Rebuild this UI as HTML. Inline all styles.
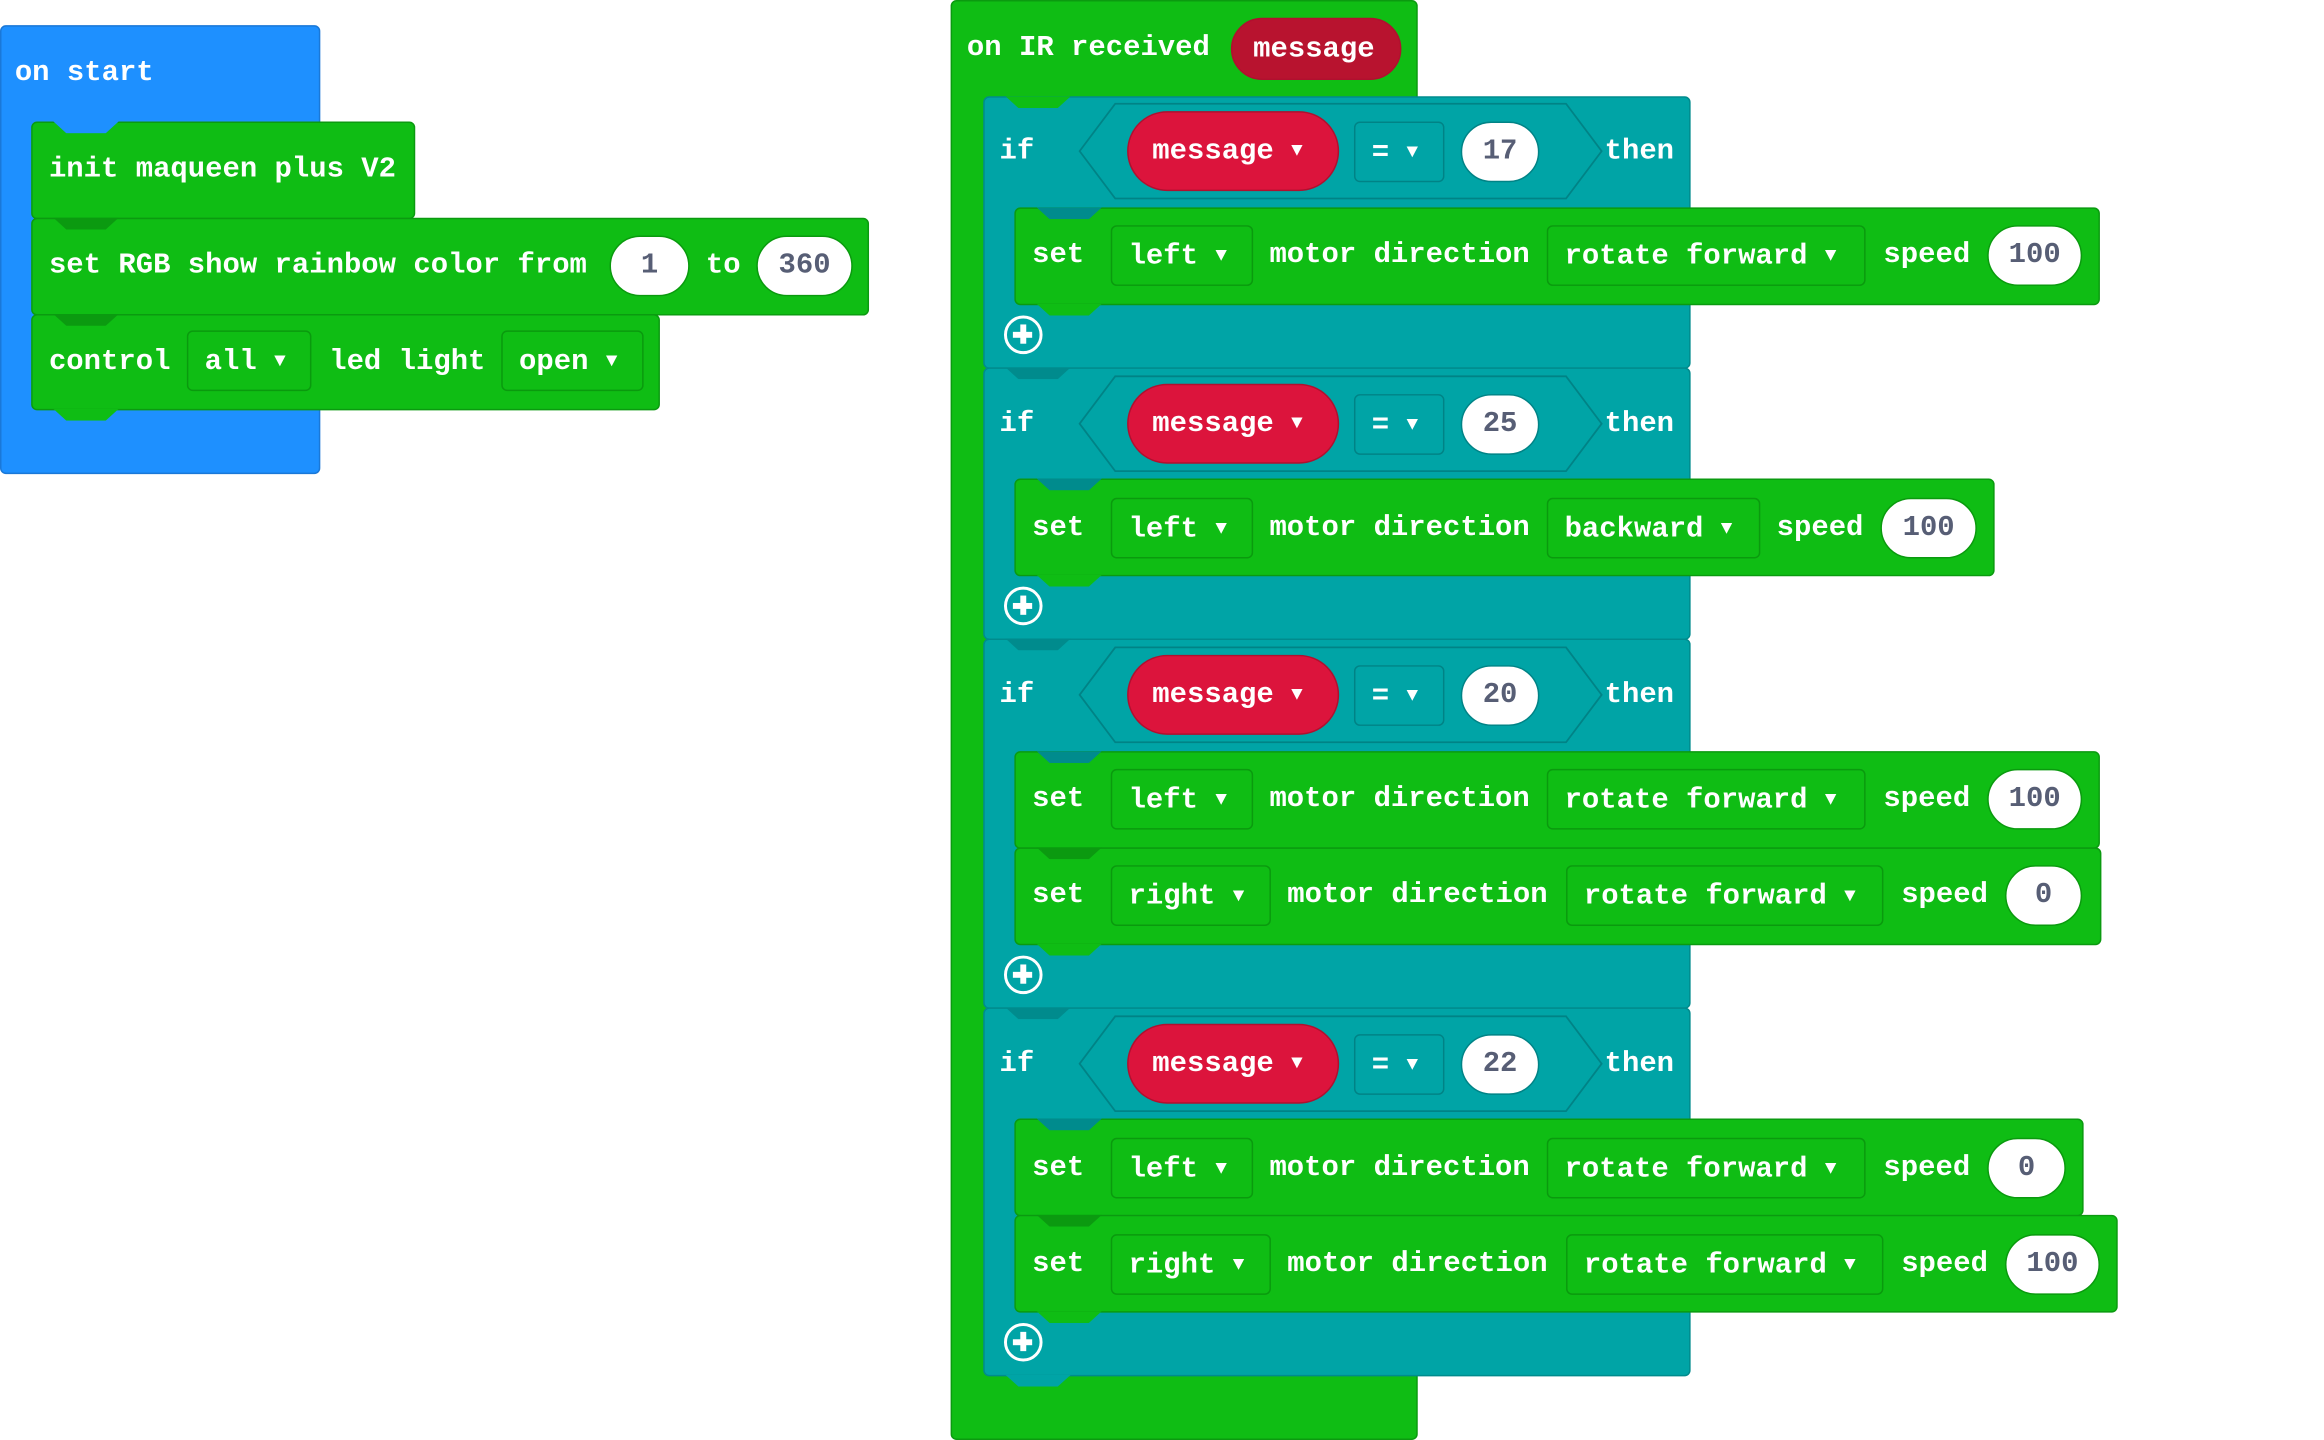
<!DOCTYPE html>
<html><head><meta charset="utf-8"><style>
html,body{margin:0;padding:0;background:#fff;overflow:hidden}
#w{position:absolute;left:0;top:0;width:1547px;height:972px;transform-origin:0 0;transform:scale(1.4830,1.4815)}
.b{position:absolute;box-sizing:border-box;border-radius:4px}
.g{background:#0fbd14;border:1px solid #0b9a10}
.t{background:#00a4a6;border:1px solid #008b8d}
.bl{background:#1e90ff;border:1px solid #1a78d8}
.tx{position:absolute;color:#fff;font:bold 19.5px "Liberation Mono",monospace;line-height:20px;white-space:pre}
.dd{position:absolute;box-sizing:border-box;border:1px solid #0a9a0e;border-radius:4px;height:41px;color:#fff;font:bold 19.5px "Liberation Mono",monospace;line-height:39px;padding-left:11px;white-space:pre}
.dt{border-color:#008386}
.ar{font-size:13px;vertical-align:2px}
.ov{position:absolute;box-sizing:border-box;background:#fff;border:1px solid #0a9a0e;border-radius:21px;height:41px;color:#575e75;font:bold 19.5px "Liberation Mono",monospace;line-height:39px;text-align:center}
.pill{position:absolute;box-sizing:border-box;background:#dc143c;border:1px solid #b0102f;border-radius:27px;height:54px;color:#fff;font:bold 19.5px "Liberation Mono",monospace;line-height:52px;padding-left:16px;white-space:pre}
.n{position:absolute;width:44px;height:8px;clip-path:polygon(0 0,100% 0,80% 100%,20% 100%)}
.pl{position:absolute;width:26px;height:26px;box-sizing:border-box;border:2.5px solid #fff;border-radius:50%}
.pl:before{content:"";position:absolute;left:9px;top:4px;width:4px;height:13px;background:#fff}
.pl:after{content:"";position:absolute;left:4px;top:9px;width:13px;height:4px;background:#fff}
</style></head><body><div id="w">

<!-- on start -->
<div class="b bl" style="left:0;top:17px;width:216px;height:303px"></div>
<div class="tx" style="left:10px;top:39px">on start</div>
<div class="b g" style="left:21px;top:82px;width:259px;height:66px"></div>
<div class="n" style="left:36px;top:82px;background:#1e90ff"></div>
<div class="tx" style="left:33px;top:104px">init maqueen plus V2</div>
<div class="b g" style="left:21px;top:147px;width:565px;height:66px"></div>
<div class="n" style="left:36px;top:147px;background:#0b9a10"></div>
<div class="tx" style="left:33px;top:169px">set RGB show rainbow color from</div>
<div class="ov" style="left:411px;top:159px;width:54px">1</div>
<div class="tx" style="left:476px;top:169px">to</div>
<div class="ov" style="left:510px;top:159px;width:65px">360</div>
<div class="b g" style="left:21px;top:212px;width:424px;height:65px"></div>
<div class="n" style="left:36px;top:212px;background:#0b9a10"></div>
<div class="tx" style="left:33px;top:234px">control</div>
<div class="dd" style="left:126px;top:223px;width:84px">all <span class="ar">▼</span></div>
<div class="tx" style="left:222px;top:234px">led light</div>
<div class="dd" style="left:338px;top:223px;width:96px">open <span class="ar">▼</span></div>
<div class="n" style="left:36px;top:276px;background:#0fbd14"></div>

<!-- on IR received -->
<div class="b g" style="left:641px;top:0;width:315px;height:972px"></div>
<div class="tx" style="left:652px;top:22px">on IR received</div>
<div class="pill" style="left:830px;top:12px;width:115px;height:42px;line-height:40px;background:#b8132f;padding-left:14px">message</div>

<!-- if blocks -->
<div class="b t" style="left:663px;top:65px;width:477px;height:184px"></div>
<div class="b t" style="left:663px;top:248px;width:477px;height:184px"></div>
<div class="b t" style="left:663px;top:431px;width:477px;height:250px"></div>
<div class="b t" style="left:663px;top:680px;width:477px;height:249px"></div>
<div class="n" style="left:678px;top:65px;background:#0fbd14"></div>
<div class="n" style="left:678px;top:248px;background:#008b8d"></div>
<div class="n" style="left:678px;top:431px;background:#008b8d"></div>
<div class="n" style="left:678px;top:680px;background:#008b8d"></div>
<div class="n" style="left:678px;top:928px;background:#00a4a6"></div>

<svg style="position:absolute;left:0;top:0" width="1547" height="972">
<g fill="#00a4a6" stroke="#008386" stroke-width="1.2">
<polygon points="728,102 752,70 1056,70 1080,102 1056,134 752,134"/>
<polygon points="728,286 752,254 1056,254 1080,286 1056,318 752,318"/>
<polygon points="728,469 752,437 1056,437 1080,469 1056,501 752,501"/>
<polygon points="728,718 752,686 1056,686 1080,718 1056,750 752,750"/>
</g></svg>

<div class="tx" style="left:674px;top:92px">if</div>
<div class="pill" style="left:760px;top:75px;width:143px">message <span class="ar">▼</span></div>
<div class="dd dt" style="left:913px;top:82px;width:61px">= <span class="ar">▼</span></div>
<div class="ov" style="left:985px;top:82px;width:53px;border-color:#008386">17</div>
<div class="tx" style="left:1082px;top:92px">then</div>

<div class="tx" style="left:674px;top:276px">if</div>
<div class="pill" style="left:760px;top:259px;width:143px">message <span class="ar">▼</span></div>
<div class="dd dt" style="left:913px;top:266px;width:61px">= <span class="ar">▼</span></div>
<div class="ov" style="left:985px;top:266px;width:53px;border-color:#008386">25</div>
<div class="tx" style="left:1082px;top:276px">then</div>

<div class="tx" style="left:674px;top:459px">if</div>
<div class="pill" style="left:760px;top:442px;width:143px">message <span class="ar">▼</span></div>
<div class="dd dt" style="left:913px;top:449px;width:61px">= <span class="ar">▼</span></div>
<div class="ov" style="left:985px;top:449px;width:53px;border-color:#008386">20</div>
<div class="tx" style="left:1082px;top:459px">then</div>

<div class="tx" style="left:674px;top:708px">if</div>
<div class="pill" style="left:760px;top:691px;width:143px">message <span class="ar">▼</span></div>
<div class="dd dt" style="left:913px;top:698px;width:61px">= <span class="ar">▼</span></div>
<div class="ov" style="left:985px;top:698px;width:53px;border-color:#008386">22</div>
<div class="tx" style="left:1082px;top:708px">then</div>

<!-- set rows -->
<div class="b g" style="left:684px;top:140px;width:732px;height:66px"></div>
<div class="n" style="left:699px;top:140px;background:#008b8d"></div>
<div class="n" style="left:699px;top:205px;background:#0fbd14"></div>
<div class="tx" style="left:696px;top:162px">set</div>
<div class="dd" style="left:749px;top:152px;width:96px">left <span class="ar">▼</span></div>
<div class="tx" style="left:856px;top:162px">motor direction</div>
<div class="dd" style="left:1043px;top:152px;width:215px">rotate forward <span class="ar">▼</span></div>
<div class="tx" style="left:1270px;top:162px">speed</div>
<div class="ov" style="left:1340px;top:152px;width:64px">100</div>

<div class="b g" style="left:684px;top:323px;width:661px;height:66px"></div>
<div class="n" style="left:699px;top:323px;background:#008b8d"></div>
<div class="n" style="left:699px;top:388px;background:#0fbd14"></div>
<div class="tx" style="left:696px;top:346px">set</div>
<div class="dd" style="left:749px;top:336px;width:96px">left <span class="ar">▼</span></div>
<div class="tx" style="left:856px;top:346px">motor direction</div>
<div class="dd" style="left:1043px;top:336px;width:144px">backward <span class="ar">▼</span></div>
<div class="tx" style="left:1198px;top:346px">speed</div>
<div class="ov" style="left:1268px;top:336px;width:65px">100</div>

<div class="b g" style="left:684px;top:507px;width:732px;height:66px"></div>
<div class="n" style="left:699px;top:507px;background:#008b8d"></div>
<div class="tx" style="left:696px;top:529px">set</div>
<div class="dd" style="left:749px;top:519px;width:96px">left <span class="ar">▼</span></div>
<div class="tx" style="left:856px;top:529px">motor direction</div>
<div class="dd" style="left:1043px;top:519px;width:215px">rotate forward <span class="ar">▼</span></div>
<div class="tx" style="left:1270px;top:529px">speed</div>
<div class="ov" style="left:1340px;top:519px;width:64px">100</div>

<div class="b g" style="left:684px;top:572px;width:733px;height:66px"></div>
<div class="n" style="left:699px;top:572px;background:#0b9a10"></div>
<div class="n" style="left:699px;top:637px;background:#0fbd14"></div>
<div class="tx" style="left:696px;top:594px">set</div>
<div class="dd" style="left:749px;top:584px;width:108px">right <span class="ar">▼</span></div>
<div class="tx" style="left:868px;top:594px">motor direction</div>
<div class="dd" style="left:1056px;top:584px;width:214px">rotate forward <span class="ar">▼</span></div>
<div class="tx" style="left:1282px;top:594px">speed</div>
<div class="ov" style="left:1352px;top:584px;width:52px">0</div>

<div class="b g" style="left:684px;top:755px;width:721px;height:66px"></div>
<div class="n" style="left:699px;top:755px;background:#008b8d"></div>
<div class="tx" style="left:696px;top:778px">set</div>
<div class="dd" style="left:749px;top:768px;width:96px">left <span class="ar">▼</span></div>
<div class="tx" style="left:856px;top:778px">motor direction</div>
<div class="dd" style="left:1043px;top:768px;width:215px">rotate forward <span class="ar">▼</span></div>
<div class="tx" style="left:1270px;top:778px">speed</div>
<div class="ov" style="left:1340px;top:768px;width:53px">0</div>

<div class="b g" style="left:684px;top:820px;width:744px;height:66px"></div>
<div class="n" style="left:699px;top:820px;background:#0b9a10"></div>
<div class="n" style="left:699px;top:885px;background:#0fbd14"></div>
<div class="tx" style="left:696px;top:843px">set</div>
<div class="dd" style="left:749px;top:833px;width:108px">right <span class="ar">▼</span></div>
<div class="tx" style="left:868px;top:843px">motor direction</div>
<div class="dd" style="left:1056px;top:833px;width:214px">rotate forward <span class="ar">▼</span></div>
<div class="tx" style="left:1282px;top:843px">speed</div>
<div class="ov" style="left:1352px;top:833px;width:64px">100</div>

<div class="pl" style="left:677px;top:213px"></div>
<div class="pl" style="left:677px;top:396px"></div>
<div class="pl" style="left:677px;top:645px"></div>
<div class="pl" style="left:677px;top:893px"></div>

</div></body></html>
